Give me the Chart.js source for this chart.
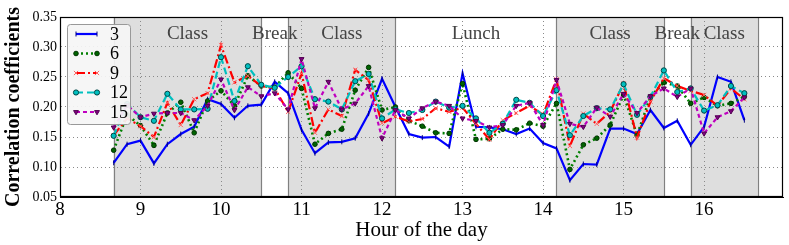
<!DOCTYPE html>
<html>
<head>
<meta charset="utf-8">
<script src="https://cdn.jsdelivr.net/npm/chart.js@4.4.1/dist/chart.umd.min.js"></script>
<style>
html,body{margin:0;padding:0;background:#fff;}
#wrap{width:789px;height:245px;}
</style>
</head>
<body>
<div id="wrap"><canvas id="c" width="789" height="245"></canvas></div>
<script>
// ---- data ----
const times = ['8:40','8:50','9:00','9:10','9:20','9:30','9:40','9:50','10:00','10:10','10:20','10:30',
  '10:40','10:50','11:00','11:10','11:20','11:30','11:40','11:50','12:00','12:10','12:20','12:30',
  '12:40','12:50','13:00','13:10','13:20','13:30','13:40','13:50','14:00','14:10','14:20','14:30',
  '14:40','14:50','15:00','15:10','15:20','15:30','15:40','15:50','16:00','16:10','16:20','16:30'];

const seriesNames = ['3','6','9','12','15'];

const s3 = [0.107,0.138,0.144,0.106,0.138,0.155,0.167,0.213,0.205,0.182,
  0.202,0.204,0.242,0.223,0.162,0.123,0.141,0.142,0.148,0.189,
  0.247,0.200,0.155,0.149,0.150,0.134,0.256,0.167,0.166,0.163,
  0.155,0.164,0.140,0.131,0.078,0.105,0.104,0.164,0.164,0.155,
  0.195,0.165,0.177,0.137,0.167,0.250,0.242,0.178];
const s6 = [0.128,0.187,0.169,0.136,0.190,0.208,0.157,0.210,0.227,0.202,
  0.252,0.235,0.233,0.257,0.231,0.138,0.156,0.163,0.228,0.266,
  0.195,0.200,0.177,0.168,0.157,0.156,0.239,0.146,0.147,0.163,
  0.162,0.173,0.168,0.206,0.096,0.137,0.148,0.170,0.220,0.153,
  0.217,0.241,0.235,0.206,0.216,0.202,0.206,0.217];
const s9 = [0.153,0.181,0.168,0.150,0.207,0.170,0.213,0.223,0.303,0.241,
  0.252,0.235,0.231,0.192,0.256,0.157,0.196,0.185,0.262,0.245,
  0.173,0.184,0.176,0.180,0.198,0.192,0.199,0.172,0.146,0.178,
  0.190,0.202,0.187,0.246,0.135,0.189,0.172,0.192,0.239,0.149,
  0.209,0.248,0.235,0.227,0.220,0.202,0.231,0.213];
const s12 = [0.152,0.205,0.183,0.177,0.222,0.196,0.196,0.197,0.283,0.210,
  0.268,0.237,0.232,0.250,0.268,0.213,0.209,0.196,0.243,0.255,
  0.181,0.196,0.190,0.195,0.209,0.199,0.202,0.181,0.157,0.172,
  0.212,0.207,0.185,0.228,0.153,0.185,0.198,0.196,0.238,0.187,
  0.217,0.261,0.225,0.231,0.194,0.203,0.235,0.223];
const s15 = [0.166,0.203,0.183,0.189,0.190,0.190,0.178,0.202,0.246,0.195,
  0.233,0.218,0.223,0.196,0.280,0.198,0.242,0.196,0.206,0.235,
  0.148,0.195,0.181,0.198,0.209,0.202,0.181,0.177,0.166,0.170,
  0.202,0.207,0.170,0.245,0.172,0.167,0.199,0.184,0.222,0.190,
  0.218,0.231,0.217,0.231,0.156,0.183,0.193,0.216];

const periodNames  = ['Class','Break','Class','Lunch','Class','Break','Class'];
const periodStarts = ['8:40','10:30','10:50','12:10','14:10','15:30','15:50'];
const periodEnds   = ['10:30','10:50','12:10','14:10','15:30','15:50','16:40'];
const periodShaded = [true,false,true,false,true,false,true];

const yTicks = ['0.05','0.10','0.15','0.20','0.25','0.30','0.35'];
const xTicks = ['8','9','10','11','12','13','14','15','16'];

// ---- helpers ----
function toHour(t){ const p=t.split(':'); return +p[0] + (+p[1])/60; }
const hours = times.map(toHour);
const FONT = "'Liberation Serif', 'DejaVu Serif', serif";

const styles = [
  {color:'#0000ff', dash:[], width:2.2, pointStyle:'line', rotation:90, radius:2.5, pointBg:'#000080', pointBorder:'#000080'},
  {color:'#007f00', dash:[2,3], width:2.6, pointStyle:'circle', rotation:0, radius:2.3, pointBg:'#006400', pointBorder:'#003300'},
  {color:'#ff0000', dash:[9,3,2,3], width:2.2, pointStyle:'crossRot', rotation:0, radius:3, pointBg:'#ff6060', pointBorder:'#ff6060'},
  {color:'#00bfbf', dash:[7,4], width:2.2, pointStyle:'circle', rotation:0, radius:2.6, pointBg:'#00bfbf', pointBorder:'#004848'},
  {color:'#bf00bf', dash:[4,3], width:2.2, pointStyle:'triangle', rotation:180, radius:2.8, pointBg:'#800080', pointBorder:'#500050'}
];
const allSeries = [s3,s6,s9,s12,s15];

const datasets = allSeries.map((s,k)=>({
  label: seriesNames[k],
  data: s.map((v,i)=>({x:hours[i], y:v})),
  borderColor: styles[k].color,
  borderWidth: styles[k].width,
  borderDash: styles[k].dash,
  pointStyle: styles[k].pointStyle,
  rotation: styles[k].rotation,
  pointRadius: styles[k].radius,
  pointBackgroundColor: styles[k].pointBg,
  pointBorderColor: styles[k].pointBorder,
  pointBorderWidth: 1,
  fill:false, tension:0,
  order: allSeries.length - k
}));

const periodsPlugin = {
  id:'periods',
  beforeDraw(chart){
    const {ctx, chartArea:a, scales:{x}} = chart;
    ctx.save();
    ctx.fillStyle='#fff'; ctx.fillRect(0,0,chart.width,chart.height);
    for(let i=0;i<periodNames.length;i++){
      if(!periodShaded[i]) continue;
      const x0=x.getPixelForValue(toHour(periodStarts[i])), x1=x.getPixelForValue(toHour(periodEnds[i]));
      ctx.fillStyle='#dedede';
      ctx.fillRect(x0,a.top,x1-x0,a.bottom-a.top);
      ctx.strokeStyle='#808080'; ctx.lineWidth=1.2;
      ctx.beginPath();
      ctx.moveTo(Math.round(x0)+0.5,a.top); ctx.lineTo(Math.round(x0)+0.5,a.bottom);
      ctx.moveTo(Math.round(x1)+0.5,a.top); ctx.lineTo(Math.round(x1)+0.5,a.bottom);
      ctx.stroke();
    }
    ctx.restore();
  },
  afterDatasetsDraw(chart){
    const {ctx, chartArea:a, scales:{x}} = chart;
    ctx.save();
    ctx.fillStyle='#444';
    ctx.font = "19px " + FONT;
    ctx.textAlign='center'; ctx.textBaseline='middle';
    for(let i=0;i<periodNames.length;i++){
      const xm = (x.getPixelForValue(toHour(periodStarts[i])) + x.getPixelForValue(toHour(periodEnds[i])))/2;
      ctx.fillText(periodNames[i], xm, a.top+17);
    }
    ctx.restore();
  },
  afterDraw(chart){
    const {ctx, chartArea:a} = chart;
    ctx.save();
    ctx.strokeStyle='#000'; ctx.lineWidth=1.2;
    ctx.strokeRect(a.left+0.5, a.top+0.5, a.right-a.left-1, a.bottom-a.top-1);
    // legend
    const bx=67, by=24, bw=63, bh=100;
    ctx.fillStyle='rgba(245,245,245,0.92)';
    ctx.strokeStyle='#999'; ctx.lineWidth=1;
    ctx.beginPath();
    if(ctx.roundRect) ctx.roundRect(bx+0.5,by+0.5,bw,bh,3); else ctx.rect(bx+0.5,by+0.5,bw,bh);
    ctx.fill(); ctx.stroke();
    chart.data.datasets.forEach((ds,k)=>{
      const yy = by + 10 + k*19.5;
      const st = styles[k];
      ctx.save();
      ctx.strokeStyle=st.color; ctx.lineWidth=st.width; ctx.setLineDash(st.dash);
      ctx.beginPath(); ctx.moveTo(76,yy); ctx.lineTo(97,yy); ctx.stroke();
      ctx.setLineDash([]);
      ctx.fillStyle=st.pointBg; ctx.strokeStyle=st.pointBorder; ctx.lineWidth=1;
      [76,97].forEach(px=>Chart.helpers.drawPoint(ctx,{pointStyle:st.pointStyle,rotation:st.rotation,radius:st.radius,borderWidth:1},px,yy));
      ctx.restore();
      ctx.fillStyle='#000'; ctx.font="18px "+FONT; ctx.textAlign='left'; ctx.textBaseline='middle';
      ctx.fillText(ds.label, 110, yy+1);
    });
    ctx.restore();
  }
};

new Chart(document.getElementById('c'), {
  type:'line',
  data:{datasets},
  plugins:[periodsPlugin],
  options:{
    responsive:false, animation:false, devicePixelRatio:1,
    layout:{padding:{left:0,right:6,top:17,bottom:0}},
    plugins:{legend:{display:false}, tooltip:{enabled:false}},
    scales:{
      x:{
        type:'linear', min:8, max:16.98,
        afterFit(s){ s.height = 48; },
        ticks:{stepSize:1, includeBounds:false, autoSkip:false, maxRotation:0, padding:2,
          color:'#000', font:{family:FONT, size:19},
          callback:(v)=> xTicks.includes(String(v)) ? String(v) : ''},
        grid:{color:'#8a8a8a', lineWidth:1, drawTicks:false},
        border:{display:true, color:'#000', width:1, dash:[1,3]},
        title:{display:true, text:'Hour of the day', color:'#000', font:{family:FONT, size:21}, padding:{top:0,bottom:2}}
      },
      y:{
        min:0.05, max:0.35,
        afterFit(s){ s.width = 60; },
        afterBuildTicks(s){ s.ticks = yTicks.map(t=>({value:parseFloat(t)})); },
        ticks:{autoSkip:false, padding:3, color:'#000', font:{family:FONT, size:14},
          callback:(v)=> v.toFixed(2)},
        grid:{color:'#8a8a8a', lineWidth:1, drawTicks:false},
        border:{display:true, color:'#000', width:1, dash:[1,3]},
        title:{display:true, text:'Correlation coefficients', color:'#000', font:{family:FONT, size:20, weight:'bold'}, padding:{top:2,bottom:0}}
      }
    }
  }
});
</script>
</body>
</html>
